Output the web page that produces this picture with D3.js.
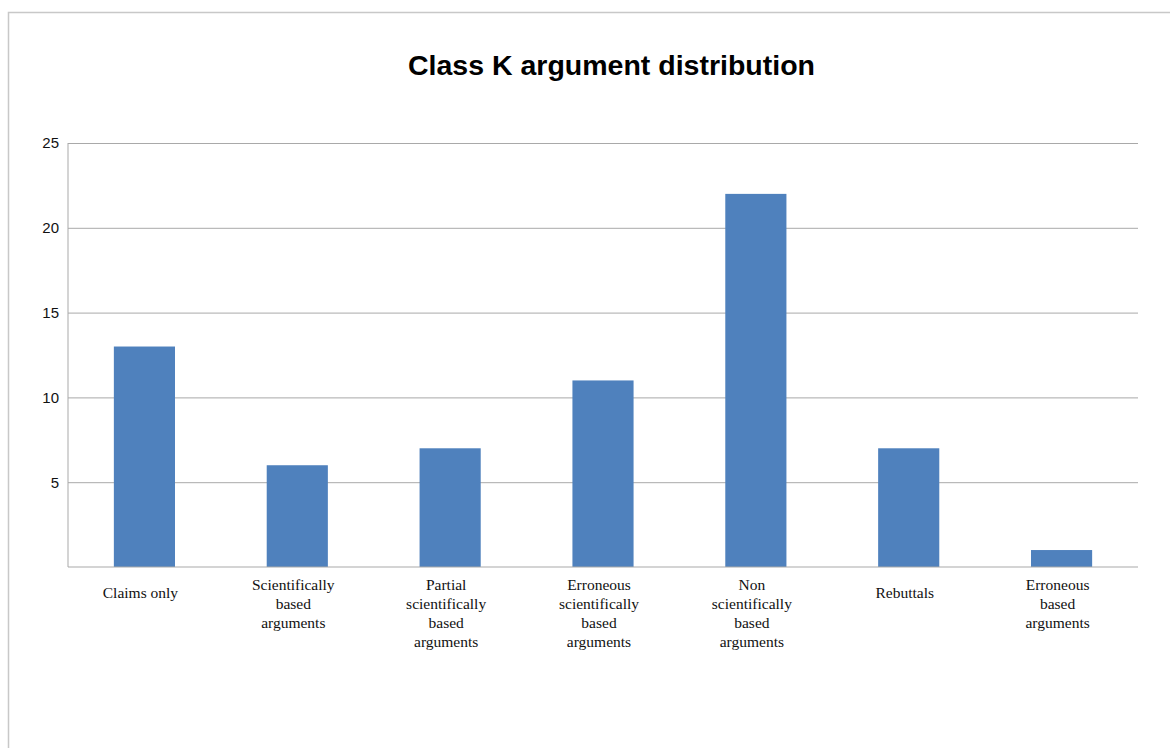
<!DOCTYPE html>
<html>
<head>
<meta charset="utf-8">
<script src="https://cdn.jsdelivr.net/npm/d3@7"></script>
<style>
  body { margin: 0; background: #fff; }
  svg { display: block; }
</style>
</head>
<body>
<div id="chart"></div>
<script>
// chart data
var categories = [
    "Claims only",
    "Scientifically based arguments",
    "Partial scientifically based arguments",
    "Erroneous scientifically based arguments",
    "Non scientifically based arguments",
    "Rebuttals",
    "Erroneous based arguments"
];
// line breaks for the category labels
var labelLines = [
    ["Claims only"],
    ["Scientifically", "based", "arguments"],
    ["Partial", "scientifically", "based", "arguments"],
    ["Erroneous", "scientifically", "based", "arguments"],
    ["Non", "scientifically", "based", "arguments"],
    ["Rebuttals"],
    ["Erroneous", "based", "arguments"]
];
var values = [13, 6, 7, 11, 22, 7, 1];
var yTicks = [5, 10, 15, 20, 25];
var title = "Class K argument distribution";

var width = 1170, height = 748;
var margin = { top: 143, right: 32, bottom: 181, left: 68 };

var svg = d3.select("#chart").append("svg")
    .attr("width", width)
    .attr("height", height);

// outer frame (runs off the right and bottom of the picture)
svg.append("rect")
    .attr("x", 8.5)
    .attr("y", 12.5)
    .attr("width", width)
    .attr("height", height)
    .attr("fill", "none")
    .attr("stroke", "#c8c8c8")
    .attr("stroke-width", 1.5);

svg.append("text")
    .attr("x", 611.5)
    .attr("y", 74.5)
    .attr("text-anchor", "middle")
    .attr("font-family", "Liberation Sans, Arial, sans-serif")
    .attr("font-weight", "bold")
    .attr("font-size", 28.5)
    .attr("fill", "#000")
    .text(title);

var x = d3.scaleBand()
    .domain(categories)
    .range([margin.left, width - margin.right])
    .paddingInner(0.6)
    .paddingOuter(0.3);

var y = d3.scaleLinear()
    .domain([0, 25])
    .range([height - margin.bottom, margin.top]);

// gridlines + y labels
var yAxis = svg.append("g")
    .attr("transform", "translate(" + margin.left + ",0)")
    .call(d3.axisLeft(y)
        .tickValues(yTicks)
        .tickSize(-(width - margin.left - margin.right))
        .tickPadding(9));

yAxis.select(".domain").remove();
yAxis.selectAll(".tick line")
    .attr("stroke", "#a9a9a9")
    .attr("stroke-width", 1);
yAxis.selectAll(".tick text")
    .attr("font-family", "Liberation Sans, Arial, sans-serif")
    .attr("font-size", 15)
    .attr("fill", "#111");

// left axis line
svg.append("line")
    .attr("x1", margin.left).attr("x2", margin.left)
    .attr("y1", y(25)).attr("y2", y(0))
    .attr("stroke", "#a9a9a9");

// bars
svg.selectAll(".bar")
    .data(values)
    .enter()
    .append("rect")
    .attr("class", "bar")
    .attr("x", function (d, i) { return x(categories[i]); })
    .attr("y", function (d) { return y(d); })
    .attr("width", x.bandwidth())
    .attr("height", function (d) { return y(0) - y(d); })
    .attr("fill", "#4f81bd");

// baseline
svg.append("line")
    .attr("x1", margin.left).attr("x2", width - margin.right)
    .attr("y1", y(0)).attr("y2", y(0))
    .attr("stroke", "#a9a9a9");

// category labels
var labels = svg.selectAll(".xlabel")
    .data(labelLines)
    .enter()
    .append("text")
    .attr("class", "xlabel")
    .attr("text-anchor", "middle")
    .attr("font-family", "Liberation Serif, Times New Roman, serif")
    .attr("font-size", 15.5)
    .attr("fill", "#111")
    .attr("transform", function (d, i) {
        var top = d.length == 1 ? 598 : 590;
        return "translate(" + (x(categories[i]) + x.bandwidth() / 2 - 4) + "," + top + ")";
    });

labels.selectAll("tspan")
    .data(function (d) { return d; })
    .enter()
    .append("tspan")
    .attr("x", 0)
    .attr("dy", function (d, i) { return i == 0 ? 0 : 19; })
    .text(function (d) { return d; });
</script>
</body>
</html>
